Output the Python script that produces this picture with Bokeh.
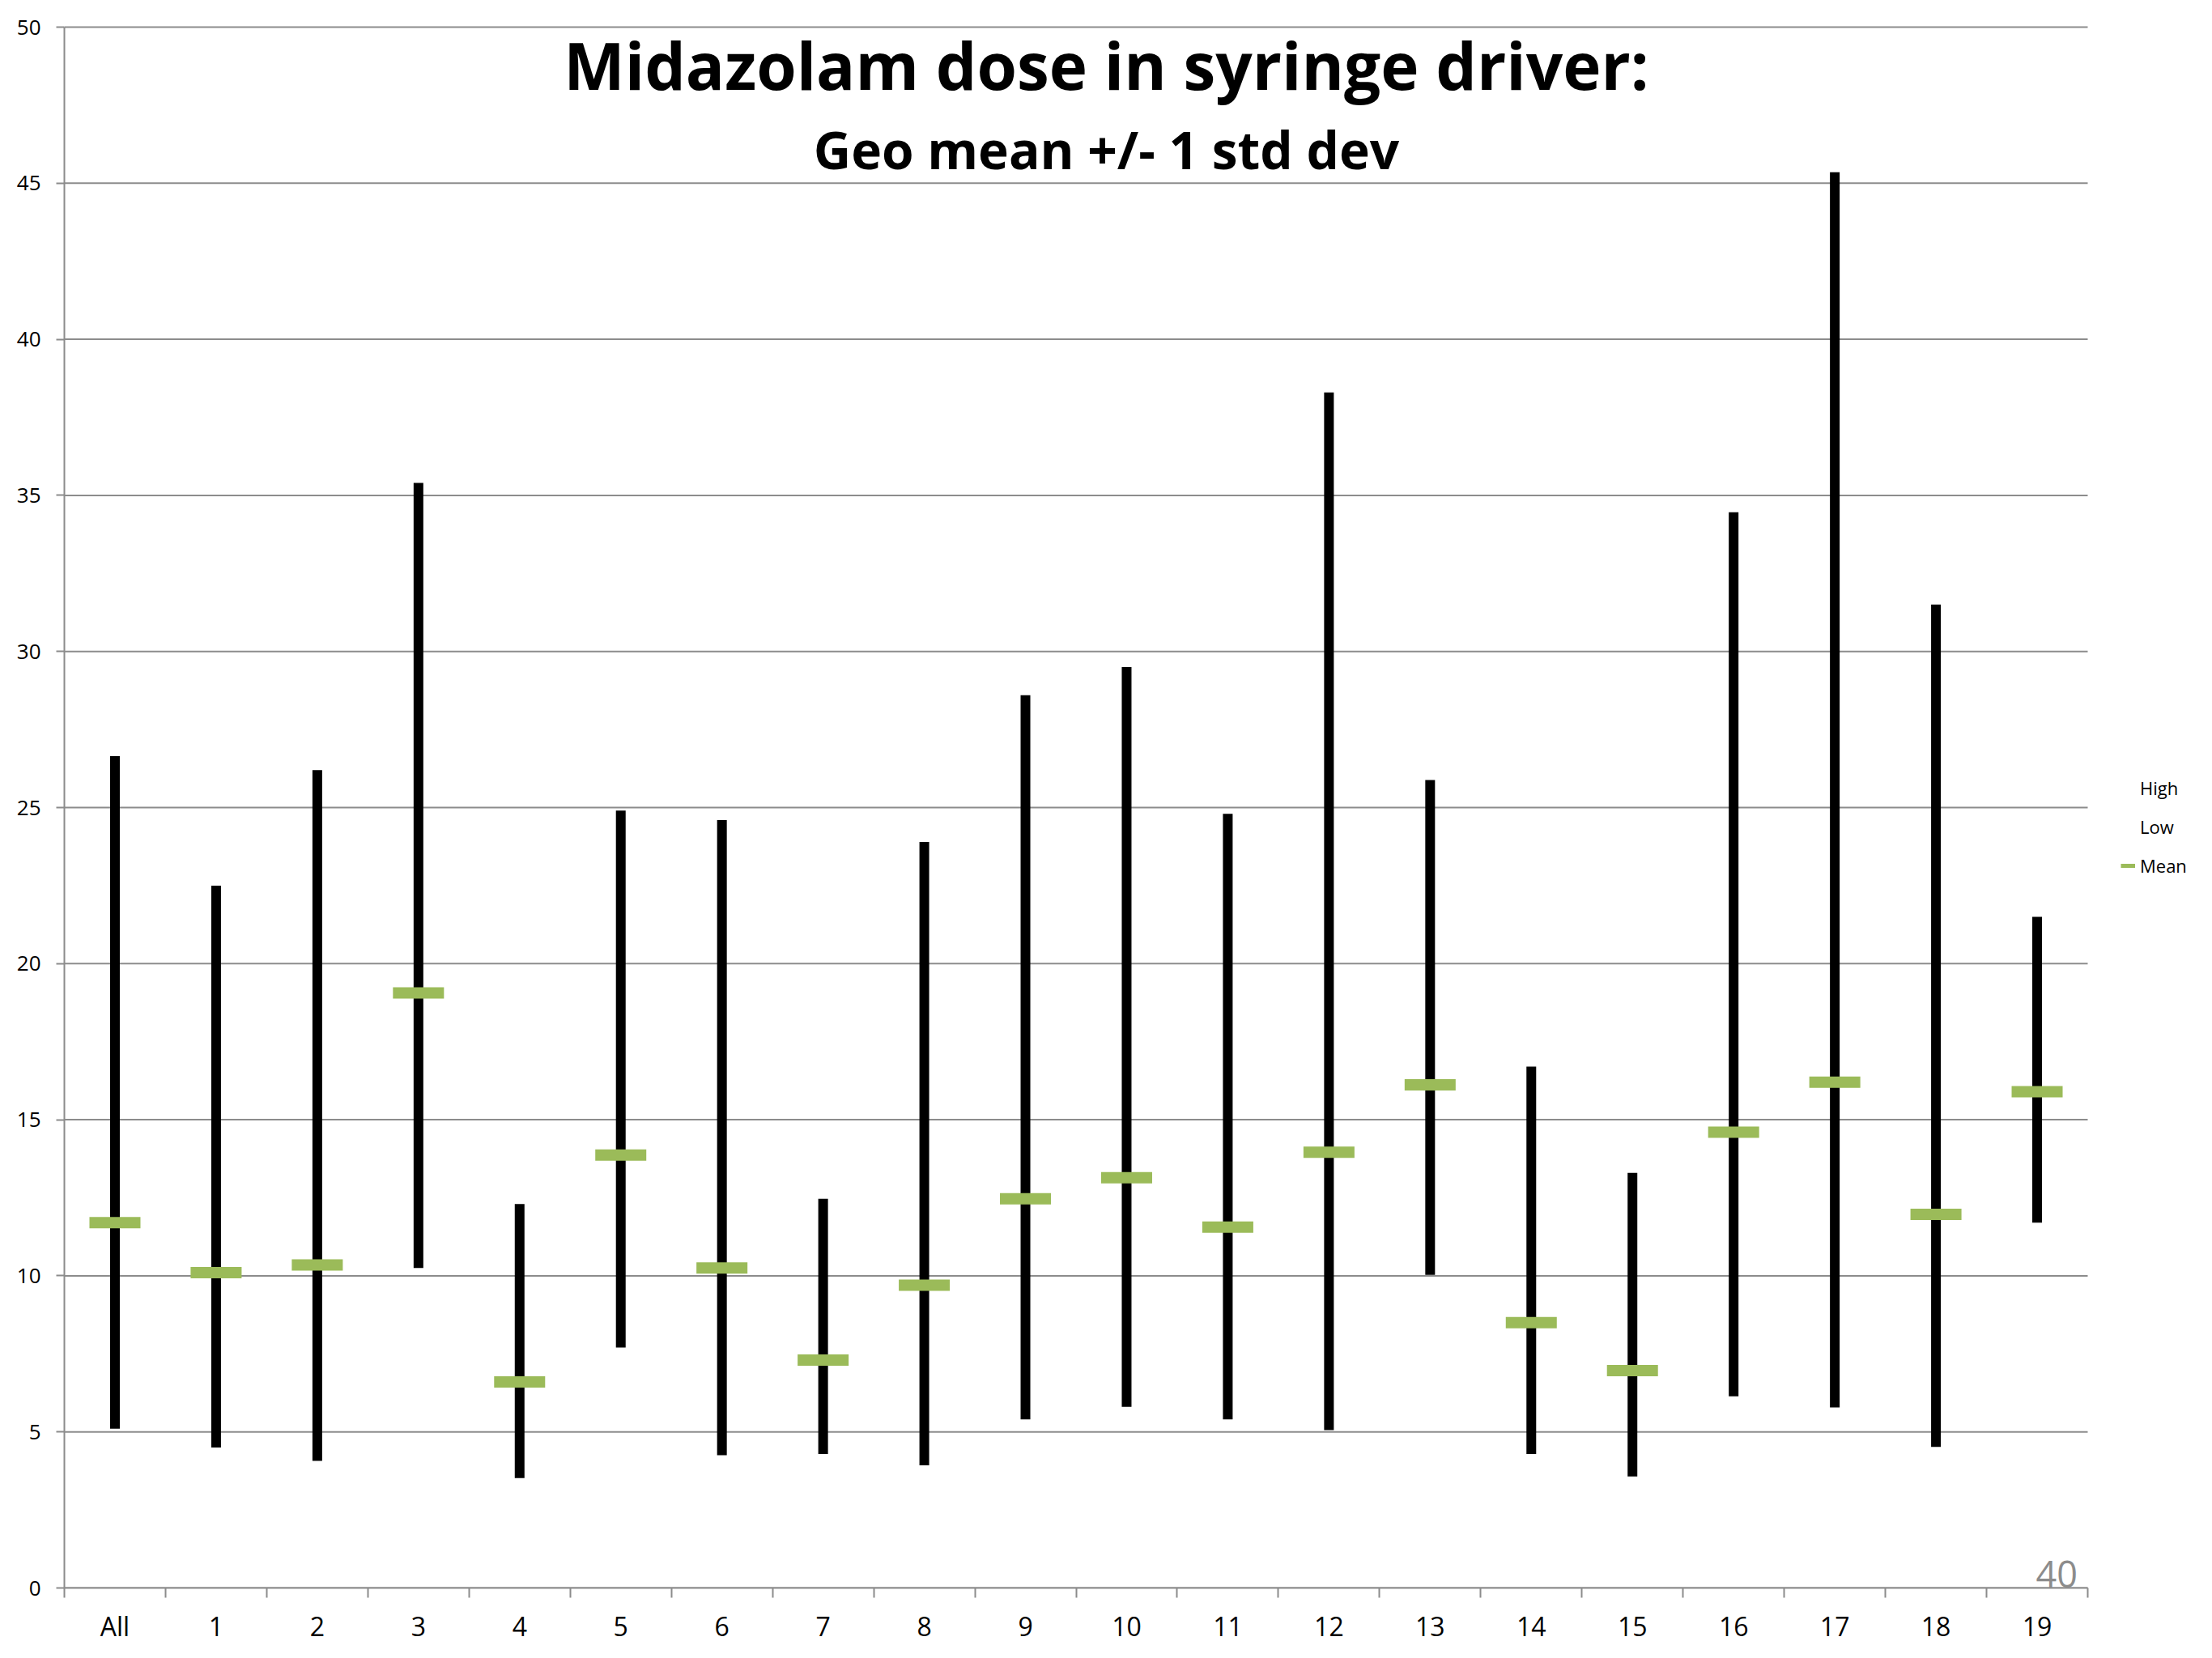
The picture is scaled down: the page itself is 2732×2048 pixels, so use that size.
from bokeh.plotting import figure
from bokeh.models import Range1d, FixedTicker, Label, Legend, LegendItem
from bokeh.embed import file_html
from bokeh.resources import INLINE

categories = ["All"] + [str(i) for i in range(1, 20)]
high = [26.65, 22.5, 26.2, 35.4, 12.3, 24.9, 24.6, 12.47, 23.9, 28.6,
        29.5, 24.8, 38.3, 25.88, 16.7, 13.3, 34.46, 45.35, 31.5, 21.5]
low = [5.1, 4.5, 4.07, 10.25, 3.52, 7.7, 4.25, 4.29, 3.93, 5.4,
       5.8, 5.4, 5.06, 10.03, 4.29, 3.57, 6.14, 5.78, 4.52, 11.7]
mean = [11.7, 10.1, 10.35, 19.06, 6.6, 13.87, 10.25, 7.3, 9.7, 12.47,
        13.14, 11.56, 13.96, 16.12, 8.5, 6.96, 14.6, 16.2, 11.97, 15.9]
y_ticks = [0, 5, 10, 15, 20, 25, 30, 35, 40, 45, 50]
title_text = "Midazolam dose in syringe driver:"
subtitle_text = "Geo mean +/- 1 std dev"
page_number = "40"

n = len(categories)
xc = [i + 0.5 for i in range(n)]
bounds = list(range(n + 1))

GRID = "#8c8c8c"
GREEN = "#9BBB59"
FONT = "Open Sans"

W, H = 2732, 2048
LEFT, TOP, BOTTOM = 79, 31, 87
PX_X = 124.95   # px per category
PX_Y = 38.56    # px per unit
x_end = (W - LEFT) / PX_X
y_end = (H - TOP - BOTTOM) / PX_Y

p = figure(width=W, height=H, x_range=Range1d(0, x_end), y_range=Range1d(0, y_end),
           output_backend="svg", toolbar_location=None,
           min_border_left=LEFT, min_border_right=0, min_border_top=TOP, min_border_bottom=BOTTOM)
p.outline_line_color = None
p.background_fill_color = "white"
p.border_fill_color = "white"

# horizontal gridlines (only across the category area)
p.segment(x0=[0] * len(y_ticks), x1=[n] * len(y_ticks), y0=y_ticks, y1=y_ticks,
          line_color=GRID, line_width=2)

# hi-lo lines
p.vbar(x=xc, width=12 / PX_X, bottom=low, top=high, fill_color="black", line_color=None)
# means
p.rect(x=xc, y=mean, width=63, height=14, width_units="screen", height_units="screen",
       fill_color=GREEN, line_color=None)

# legend renderers (nothing visible in the plot)
nan = float("nan")
r_high = p.line([nan], [nan], line_alpha=0)
r_low = p.line([nan], [nan], line_alpha=0)
r_mean = p.line([nan], [nan], line_color=GREEN, line_width=5)

legend = Legend(items=[LegendItem(label="High", renderers=[r_high]),
                       LegendItem(label="Low", renderers=[r_low]),
                       LegendItem(label="Mean", renderers=[r_mean])])
legend.label_text_font = FONT
legend.label_text_font_size = "22px"
legend.label_text_color = "black"
legend.glyph_width = 18
legend.glyph_height = 30
legend.label_height = 30
legend.label_standoff = 6
legend.spacing = 18
legend.padding = 0
legend.margin = 0
legend.border_line_color = None
legend.background_fill_alpha = 0
legend.location = (2540, 877)
p.add_layout(legend)

# axes
xa = p.xaxis[0]
xa.bounds = (0, n)
xa.ticker = FixedTicker(ticks=xc, minor_ticks=bounds)
xa.major_label_overrides = {x: c for x, c in zip(xc, categories)}
xa.major_tick_out = 0
xa.major_tick_in = 0
xa.minor_tick_out = 12
xa.minor_tick_in = 0
xa.minor_tick_line_color = GRID
xa.minor_tick_line_width = 2
xa.axis_line_color = GRID
xa.axis_line_width = 2
xa.major_label_text_font = FONT
xa.major_label_text_font_size = "32px"
xa.major_label_text_color = "black"
xa.major_label_standoff = 13

ya = p.yaxis[0]
ya.bounds = (0, 50)
ya.ticker = FixedTicker(ticks=y_ticks, minor_ticks=[])
ya.major_tick_out = 10
ya.major_tick_in = 0
ya.major_tick_line_color = GRID
ya.major_tick_line_width = 2
ya.axis_line_color = GRID
ya.axis_line_width = 2
ya.major_label_text_font = FONT
ya.major_label_text_font_size = "26px"
ya.major_label_text_color = "black"
ya.major_label_standoff = 19

p.xgrid.visible = False
p.ygrid.visible = False

# titles
p.add_layout(Label(x=10.30, y=48.81, text=title_text, text_align="center",
                   text_baseline="alphabetic", text_font=FONT, text_font_style="bold",
                   text_font_size="80px", text_color="black"))
p.add_layout(Label(x=10.30, y=46.09, text=subtitle_text, text_align="center",
                   text_baseline="alphabetic", text_font=FONT, text_font_style="bold",
                   text_font_size="64px", text_color="black"))
p.add_layout(Label(x=19.90, y=0.44, text=page_number, text_align="right",
                   text_baseline="alphabetic", text_font=FONT,
                   text_font_size="45px", text_color=GRID))

open("out.html", "w").write(file_html(p, INLINE))
